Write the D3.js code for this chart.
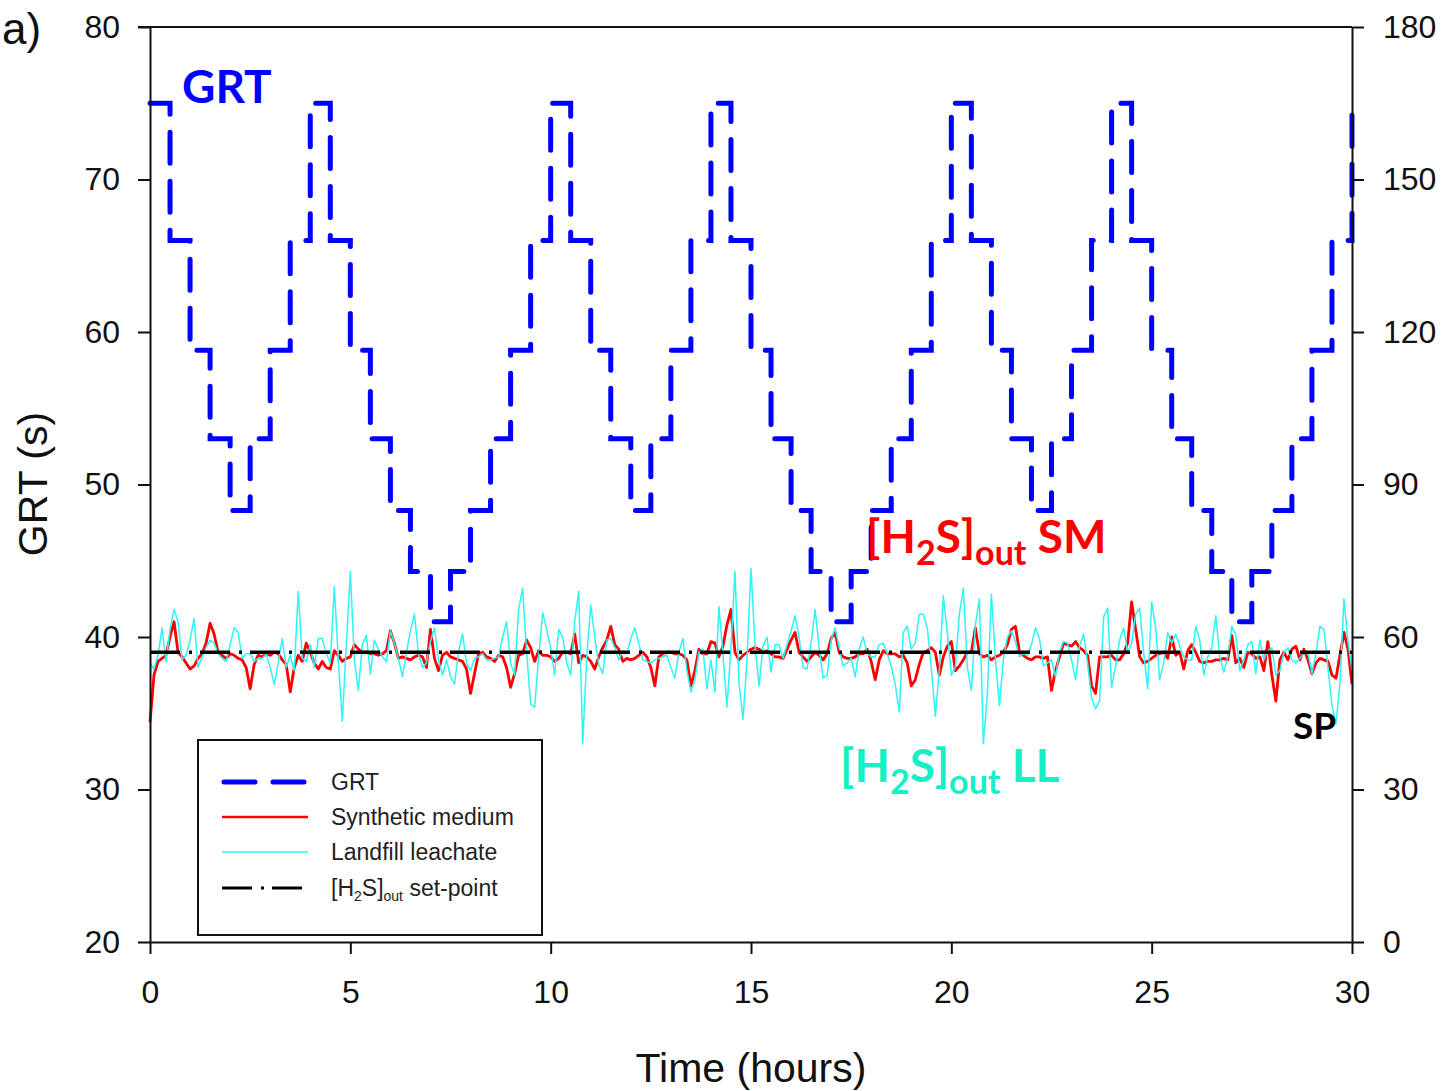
<!DOCTYPE html>
<html><head><meta charset="utf-8">
<script src="https://cdn.jsdelivr.net/npm/d3@7"></script>
<style>
html,body{margin:0;padding:0;background:#fff;}
svg{display:block;}
.ax text{font-family:"Liberation Sans",Arial,sans-serif;font-size:32px;fill:#111;}
.ax path,.ax line{stroke:#111;stroke-width:2;}
</style></head>
<body>
<svg id="c" width="1442" height="1091"></svg>
<script>
// ---------- data ----------
const timeDomain = [0, 30];
const timeTicks = [0, 5, 10, 15, 20, 25, 30];
const grtTicks = [20, 30, 40, 50, 60, 70, 80];
const rightTicks = [0, 30, 60, 90, 120, 150, 180];
const setPoint = 39;

// GRT step levels, one per 0.5 h step (step starts at 0.5*i h)
const grtStepHours = 0.5;
const grtValues = [75,66,58.8,53,48.3,53,58.8,66,75,66,58.8,53,48.3,44.3,41,44.3,48.3,53,58.8,66,
  75,66,58.8,53,48.3,53,58.8,66,75,66,58.8,53,48.3,44.3,41,44.3,48.3,53,58.8,66,
  75,66,58.8,53,48.3,53,58.8,66,75,66,58.8,53,48.3,44.3,41,44.3,48.3,53,58.8,66,75];

// [H2S]out readings, one every 0.1 h
const sampleHours = 0.1;
const synthetic = [34.4,37.5,38.4,38.6,38.8,40.0,41.0,39.0,38.7,38.3,
 37.9,38.1,38.6,38.9,39.6,40.9,40.2,39.0,38.8,38.6,
 38.9,38.8,38.6,38.5,38.0,36.6,38.2,38.8,38.7,38.9,
 38.8,39.0,38.9,38.5,38.2,36.4,38.0,38.8,38.4,39.6,
 39.0,38.3,37.9,38.4,38.0,37.9,39.1,38.8,38.4,38.6,
 38.7,39.5,39.2,39.0,39.0,38.9,38.9,38.8,38.9,39.1,
 40.4,39.6,38.6,38.7,38.6,38.5,38.7,38.8,38.7,38.0,
 40.5,38.6,37.8,38.8,39.0,38.7,38.6,38.5,38.4,37.9,
 36.3,37.6,38.9,39.0,38.7,38.6,38.4,38.8,38.7,38.0,
 36.7,37.6,38.8,38.9,39.8,39.3,38.4,39.1,38.8,38.8,
 38.7,38.4,38.6,39.0,39.0,38.9,40.2,38.3,38.8,38.7,
 38.4,37.9,38.7,39.3,39.8,40.7,39.5,39.2,38.4,38.6,
 38.5,38.6,38.8,39.0,38.7,38.0,36.8,38.7,38.9,39.0,
 39.0,38.9,38.9,38.8,38.5,36.8,37.8,39.2,38.9,38.9,
 39.7,39.6,38.7,39.4,40.8,41.8,39.0,38.5,38.8,39.0,
 39.2,39.3,39.2,39.0,39.1,38.9,38.7,38.7,38.6,39.2,
 39.8,40.3,39.0,38.7,38.4,38.7,39.0,38.8,38.5,38.9,
 39.9,40.3,39.0,38.7,38.6,38.6,38.7,38.9,38.9,39.2,
 38.4,37.2,38.5,39.1,38.9,38.9,38.9,38.7,38.8,38.3,
 36.8,37.2,38.2,39.0,39.1,39.3,39.0,37.5,38.7,39.4,
 39.7,37.8,38.1,38.5,39.0,39.0,40.6,38.9,38.7,38.8,
 38.5,38.7,38.8,39.0,39.5,40.5,40.7,39.0,38.8,38.6,
 38.5,38.7,38.7,38.6,38.7,36.5,37.8,38.7,39.6,39.5,
 39.4,39.7,39.3,39.1,38.8,36.8,36.3,38.7,38.7,38.7,
 38.8,38.5,38.5,38.9,39.6,42.3,40.5,38.7,38.3,38.4,
 38.6,38.8,38.9,39.0,38.6,40.0,38.8,39.0,37.9,39.1,
 39.5,39.0,38.4,38.3,38.4,38.4,38.5,38.5,38.6,38.5,
 40.1,38.3,38.6,38.0,39.0,38.9,38.6,38.7,37.8,39.7,
 37.5,35.8,38.5,39.0,38.5,39.2,39.4,38.5,39.2,38.5,
 37.6,38.3,38.6,38.5,38.4,37.5,37.3,38.8,40.3,39.2,
 36.9];
const landfill = [38.3,37.9,38.8,40.6,38.4,40.5,41.8,41.0,38.5,38.8,
 39.8,41.2,38.0,38.7,39.3,39.8,39.6,38.9,38.6,38.4,
 39.5,40.6,40.3,38.6,38.9,38.9,38.4,38.6,38.6,38.9,
 38.0,36.9,38.3,39.9,38.0,38.8,37.8,43.0,38.6,38.4,
 39.5,38.0,39.9,39.9,38.9,38.3,43.3,38.5,34.5,39.5,
 44.3,38.5,36.5,39.5,40.1,37.6,39.8,39.2,38.7,38.4,
 40.4,39.6,38.6,37.4,39.0,40.4,41.5,38.9,38.0,38.3,
 39.7,40.6,38.5,37.5,38.5,37.4,36.9,39.0,40.2,38.3,
 37.8,38.6,38.7,38.9,38.5,38.5,38.6,38.7,40.0,41.0,
 38.3,37.5,41.8,43.2,39.0,35.6,35.4,38.7,41.6,40.5,
 39.3,37.5,40.5,40.0,38.3,37.5,41.0,43.0,33.0,38.7,
 42.1,40.0,38.2,37.6,39.8,39.9,39.3,38.5,39.1,38.9,
 39.9,40.6,39.6,38.5,38.4,38.3,38.5,38.6,38.7,38.8,
 38.0,37.3,39.0,39.9,37.8,36.4,37.2,39.0,39.2,36.6,
 38.5,36.4,42.0,38.9,35.4,39.3,44.3,37.0,34.6,38.5,
 44.5,39.5,36.8,39.4,40.0,37.7,39.5,39.5,38.6,39.5,
 40.4,41.4,40.0,38.0,37.9,39.6,41.8,39.3,37.3,37.5,
 39.8,40.6,39.3,38.1,38.3,38.6,37.4,39.2,40.0,38.9,
 38.7,38.7,39.5,39.6,38.9,38.1,36.9,35.1,40.3,40.7,
 39.2,39.6,41.5,41.5,40.6,38.0,34.8,37.8,42.7,40.3,
 37.5,38.0,41.5,43.2,38.0,36.5,40.8,42.5,33.0,36.3,
 42.8,38.6,35.5,38.6,40.0,40.4,39.7,38.7,38.9,38.8,
 39.5,40.6,39.9,38.1,38.3,38.5,37.4,39.0,39.7,39.6,
 38.5,37.2,39.4,40.2,38.3,36.0,35.3,35.8,41.3,41.9,
 36.7,38.1,39.8,40.6,39.0,39.6,41.5,41.9,39.0,36.6,
 42.3,40.6,37.2,38.3,40.3,39.6,40.2,39.4,38.7,38.5,
 38.5,40.7,39.8,37.5,38.7,39.3,41.4,38.7,37.7,38.7,
 40.7,40.1,37.8,38.5,39.5,39.7,37.6,39.8,38.5,39.1,
 39.3,37.5,37.8,39.0,39.3,38.5,38.3,38.6,38.9,39.0,
 37.6,38.9,40.7,40.5,38.0,35.5,34.3,37.0,42.5,39.7,
 37.8];

const legendLabels = ["GRT", "Synthetic medium", "Landfill leachate", "set-point"];

// ---------- styles ----------
const C = {grt:"#0000ff", sm:"#ff0000", ll:"#2cf5f5", sp:"#000000", llText:"#17f0c6"};

// ---------- chart ----------
const svg = d3.select("#c");
svg.append("rect").attr("width",1442).attr("height",1091).attr("fill","#fff");

const x = d3.scaleLinear().domain(timeDomain).range([150, 1352]);
const yL = d3.scaleLinear().domain([20, 80]).range([942, 27]);
const yR = d3.scaleLinear().domain([0, 180]).range([942, 27]);

const grtData = grtValues.map((v,i)=>({t:i*grtStepHours, v}));
const smData = synthetic.map((v,i)=>({t:+(i*sampleHours).toFixed(2), v}));
const llData = landfill.map((v,i)=>({t:+(i*sampleHours).toFixed(2), v}));
const spData = [{t:timeDomain[0], v:setPoint},{t:timeDomain[1], v:setPoint}];

const lineStep = d3.line().x(d=>x(d.t)).y(d=>yL(d.v)).curve(d3.curveStepAfter);
const line = d3.line().x(d=>x(d.t)).y(d=>yL(d.v));

const plot = svg.append("g");
plot.append("path").datum(grtData).attr("d",lineStep).attr("fill","none")
  .attr("stroke",C.grt).attr("stroke-width",5).attr("stroke-dasharray","31,18").attr("stroke-linecap","round");
plot.append("path").datum(smData).attr("d",line).attr("fill","none")
  .attr("stroke",C.sm).attr("stroke-width",2.8).attr("stroke-linejoin","round");
plot.append("path").datum(llData).attr("d",line).attr("fill","none")
  .attr("stroke",C.ll).attr("stroke-width",1.5).attr("stroke-linejoin","round");
plot.append("path").datum(spData).attr("d",line).attr("fill","none")
  .attr("stroke",C.sp).attr("stroke-width",3.5).attr("stroke-dasharray","30,9,3,8");

// axes
svg.append("g").attr("class","ax").attr("transform","translate(150,0)")
  .call(d3.axisLeft(yL).tickValues(grtTicks).tickSize(12).tickSizeOuter(0).tickPadding(18));
svg.append("g").attr("class","ax").attr("transform","translate(1352,0)")
  .call(d3.axisRight(yR).tickValues(rightTicks).tickSize(12).tickSizeOuter(0).tickPadding(19));
svg.append("g").attr("class","ax").attr("transform","translate(0,942)")
  .call(d3.axisBottom(x).tickValues(timeTicks).tickSize(12).tickSizeOuter(0).tickPadding(26));
svg.append("line").attr("x1",138).attr("x2",1352).attr("y1",27).attr("y2",27)
  .attr("stroke","#111").attr("stroke-width",2);

// axis titles
svg.append("text").attr("x",751).attr("y",1082).attr("text-anchor","middle")
  .attr("font-family","Liberation Sans, Arial, sans-serif").attr("font-size",41).attr("fill","#111")
  .text("Time (hours)");
svg.append("text").attr("transform","translate(47,484) rotate(-90)").attr("text-anchor","middle")
  .attr("font-family","Liberation Sans, Arial, sans-serif").attr("font-size",41).attr("fill","#111")
  .text("GRT (s)");

// panel label
svg.append("text").attr("x",2).attr("y",44)
  .attr("font-family","Liberation Sans, Arial, sans-serif").attr("font-size",44).attr("fill","#111")
  .text("a)");

// annotations
const annFont = "Lato, 'Open Sans', sans-serif";
svg.append("text").attr("x",182).attr("y",103).attr("font-family",annFont).attr("font-weight","bold")
  .attr("font-size",46).attr("fill",C.grt).text("GRT");

function h2sLabel(xp, yp, size, color, suffix){
  const t = svg.append("text").attr("x",xp).attr("y",yp).attr("font-family",annFont)
    .attr("font-weight","bold").attr("font-size",size).attr("fill",color);
  t.append("tspan").text("[H");
  t.append("tspan").attr("font-size",size*0.74).attr("dy",size*0.27).text("2");
  t.append("tspan").attr("dy",-size*0.27).text("S]");
  t.append("tspan").attr("font-size",size*0.74).attr("dy",size*0.27).text("out");
  t.append("tspan").attr("dy",-size*0.27).text(suffix);
  return t;
}
h2sLabel(866, 553, 46, C.sm, " SM");
h2sLabel(840, 782, 46, C.llText, " LL");
svg.append("text").attr("x",1293).attr("y",739).attr("font-family",annFont).attr("font-weight","bold")
  .attr("font-size",37).attr("fill","#000").text("SP");

// legend
const lg = svg.append("g");
lg.append("rect").attr("x",198).attr("y",740).attr("width",344).attr("height",195)
  .attr("fill","#fff").attr("stroke","#111").attr("stroke-width",2);
const rowsY = [782, 817, 852, 888];
const styles = [
  {c:C.grt,w:5,dash:"31,18",cap:"round"},
  {c:C.sm,w:2.6,dash:null,cap:"butt"},
  {c:C.ll,w:1.5,dash:null,cap:"butt"},
  {c:C.sp,w:3,dash:"30,9,3,8",cap:"butt"}
];
styles.forEach((s,i)=>{
  lg.append("line").attr("x1",s.cap==="round"?224:222).attr("x2",s.cap==="round"?305:308)
    .attr("y1",rowsY[i]).attr("y2",rowsY[i]).attr("stroke",s.c).attr("stroke-width",s.w)
    .attr("stroke-dasharray",s.dash).attr("stroke-linecap",s.cap);
});
const lf = "Liberation Sans, Arial, sans-serif";
legendLabels.forEach((lab,i)=>{
  const t = lg.append("text").attr("x",331).attr("y",rowsY[i]+8).attr("font-family",lf)
    .attr("font-size",23).attr("fill","#222");
  if(i===3){
    t.append("tspan").text("[H");
    t.append("tspan").attr("font-size",14).attr("dy",5).text("2");
    t.append("tspan").attr("dy",-5).text("S]");
    t.append("tspan").attr("font-size",14).attr("dy",5).text("out");
    t.append("tspan").attr("dy",-5).text(" " + lab);
  } else t.text(lab);
});
</script>
</body></html>
